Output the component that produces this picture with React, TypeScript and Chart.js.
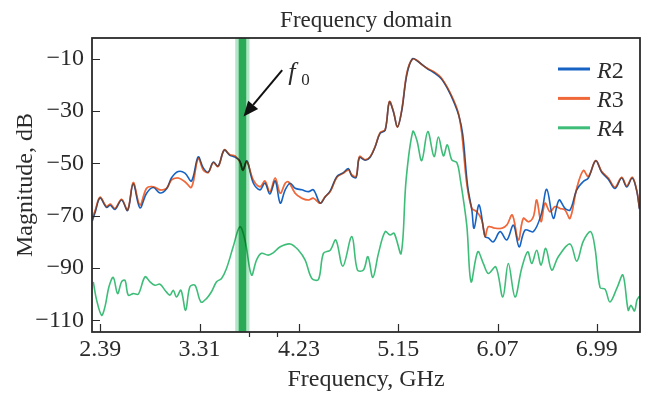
import React, { useEffect, useRef } from "react";
import { Chart, registerables } from "chart.js";

Chart.register(...registerables);

// ---------- data ----------
const R2_FREQ = [2.316,2.344,2.387,2.448,2.482,2.526,2.587,2.643,2.695,2.757,2.819,2.881,2.943,3.004,3.050,3.112,3.174,3.235,3.297,3.344,3.390,3.436,3.482,3.538,3.591,3.637,3.683,3.711,3.748,3.807,3.869,3.915,3.961,4.010,4.057,4.103,4.149,4.195,4.257,4.319,4.365,4.427,4.473,4.520,4.582,4.643,4.689,4.720,4.760,4.791,4.844,4.890,4.936,4.982,5.029,5.068,5.106,5.143,5.183,5.230,5.283,5.334,5.418,5.482,5.547,5.607,5.668,5.714,5.748,5.793,5.832,5.853,5.899,5.955,5.985,6.031,6.094,6.156,6.217,6.270,6.325,6.402,6.473,6.526,6.587,6.640,6.695,6.742,6.804,6.865,6.911,6.980,7.035,7.096,7.158,7.220,7.267,7.318,7.359,7.385];
const R2_DB = [-72.0,-68.5,-63.2,-66.8,-66.0,-67.6,-64.0,-68.0,-57.8,-67.0,-61.4,-59.2,-61.3,-59.7,-55.5,-53.1,-53.7,-56.7,-47.5,-51.7,-53.3,-49.5,-51.0,-44.9,-46.9,-47.6,-49.0,-52.4,-49.0,-57.5,-60.1,-57.5,-61.7,-56.7,-65.2,-60.1,-57.6,-59.5,-60.1,-60.8,-60.1,-65.2,-62.8,-60.5,-55.0,-53.5,-52.0,-54.8,-55.4,-47.8,-48.8,-47.6,-43.7,-38.5,-37.3,-26.5,-30.3,-36.0,-29.8,-16.0,-9.9,-11.0,-13.7,-15.3,-17.5,-21.4,-26.8,-32.1,-39.0,-58.6,-67.8,-74.8,-65.9,-78.0,-78.5,-80.0,-76.1,-79.3,-73.6,-81.9,-75.5,-76.1,-69.7,-59.9,-71.0,-64.0,-67.2,-67.8,-60.1,-56.9,-55.6,-49.0,-53.4,-56.0,-59.6,-55.6,-59.0,-55.6,-60.4,-67.5];

const R3_FREQ = [2.316,2.344,2.387,2.448,2.482,2.526,2.587,2.643,2.695,2.757,2.819,2.881,2.943,3.004,3.050,3.112,3.174,3.235,3.297,3.344,3.390,3.436,3.482,3.538,3.591,3.637,3.683,3.711,3.748,3.807,3.869,3.915,3.961,4.010,4.057,4.103,4.133,4.195,4.257,4.319,4.365,4.427,4.473,4.520,4.582,4.643,4.689,4.720,4.760,4.791,4.844,4.890,4.936,4.982,5.029,5.068,5.106,5.143,5.183,5.230,5.276,5.322,5.368,5.415,5.476,5.538,5.600,5.661,5.707,5.739,5.785,5.832,5.878,5.924,5.955,5.985,6.047,6.109,6.156,6.207,6.263,6.309,6.356,6.402,6.433,6.473,6.510,6.556,6.603,6.649,6.695,6.742,6.804,6.865,6.911,6.980,7.035,7.096,7.158,7.220,7.267,7.318,7.359,7.385];
const R3_DB = [-71.0,-67.8,-62.9,-66.5,-65.5,-67.2,-63.7,-67.8,-57.3,-65.9,-59.5,-58.9,-60.1,-59.5,-56.3,-55.6,-57.0,-59.1,-48.0,-52.5,-53.5,-49.7,-51.2,-44.8,-46.7,-47.1,-49.4,-52.7,-49.3,-56.3,-58.9,-56.7,-60.9,-55.6,-61.4,-57.6,-57.0,-61.4,-63.3,-64.0,-63.3,-65.2,-62.7,-60.8,-55.3,-53.7,-52.5,-54.4,-55.0,-47.4,-48.6,-47.4,-43.5,-38.2,-37.1,-26.3,-30.1,-36.1,-29.4,-15.4,-10.3,-10.5,-12.2,-13.5,-14.8,-16.7,-20.5,-25.6,-30.7,-38.4,-57.6,-67.2,-68.5,-71.6,-78.0,-74.2,-74.8,-74.8,-73.6,-69.7,-79.3,-71.0,-72.3,-70.4,-64.0,-72.3,-65.2,-68.5,-66.5,-67.2,-67.8,-71.0,-59.5,-52.7,-55.0,-48.9,-53.1,-55.6,-59.1,-55.3,-58.6,-55.3,-60.1,-67.2];

const R4_FREQ = [2.325,2.356,2.402,2.433,2.470,2.510,2.550,2.587,2.619,2.649,2.695,2.742,2.804,2.850,2.896,2.943,2.989,3.035,3.066,3.096,3.137,3.180,3.220,3.267,3.322,3.374,3.420,3.467,3.513,3.559,3.621,3.683,3.730,3.791,3.837,3.883,3.945,3.992,4.057,4.149,4.226,4.288,4.350,4.411,4.457,4.520,4.572,4.637,4.720,4.772,4.828,4.869,4.915,4.967,5.029,5.075,5.112,5.177,5.223,5.285,5.322,5.368,5.424,5.482,5.522,5.569,5.605,5.646,5.693,5.723,5.785,5.825,5.887,5.939,5.985,6.054,6.119,6.170,6.232,6.294,6.350,6.387,6.433,6.473,6.517,6.572,6.633,6.742,6.804,6.865,6.933,6.973,7.020,7.066,7.112,7.181,7.232,7.281,7.306,7.339,7.362,7.385];
const R4_DB = [-95.3,-102.3,-108.1,-104.9,-97.2,-93.6,-99.8,-95.3,-94.7,-100.4,-99.8,-100.0,-93.4,-95.3,-96.6,-96.2,-98.5,-100.4,-98.5,-101.1,-98.5,-106.2,-97.2,-96.6,-103.0,-101.7,-99.1,-95.3,-94.0,-90.2,-81.9,-74.2,-79.3,-92.7,-87.0,-84.4,-85.1,-84.2,-81.9,-80.8,-83.2,-87.0,-94.0,-94.4,-84.4,-83.2,-79.3,-89.3,-78.0,-90.8,-90.8,-85.7,-93.6,-84.4,-76.1,-77.4,-76.7,-84.4,-56.3,-37.8,-41.0,-48.9,-37.8,-47.4,-39.9,-47.1,-42.9,-48.6,-49.7,-55.5,-73.6,-95.3,-83.8,-88.3,-92.1,-89.6,-101.1,-88.3,-101.1,-90.1,-83.8,-88.3,-83.2,-88.9,-82.5,-90.8,-85.7,-80.8,-87.4,-79.7,-76.1,-82.4,-97.5,-98.1,-103.0,-97.2,-92.7,-106.2,-104.3,-106.4,-102.3,-100.8];

const SERIES_NAMES = ["R2", "R3", "R4"];
const SERIES_COLORS = ["#1763c4", "#f0683a", "#3dbd78"];

const X_TICKS = [2.39, 3.31, 4.23, 5.15, 6.07, 6.99];
const Y_TICKS = [-110, -90, -70, -50, -30, -10];
const X_MINOR = [3.772, 4.026];
const X_RANGE = [2.313, 7.39];
const Y_RANGE = [-114.5, -2];

const F0_BAND = [3.64, 3.772];
const F0_CORE = [3.672, 3.742];
const ARROW_TAIL = [4.075, -14.3];
const ARROW_TIP = [3.717, -32.0];
const F0_LABEL = [4.131, -17.9];
const F0_SUB = [4.251, -20.0];

const TITLE = "Frequency domain";
const X_TITLE = "Frequency, GHz";
const Y_TITLE = "Magnitude, dB";

const SERIF = "'Liberation Serif', 'Times New Roman', serif";
const INK = "#2b2b2b";

function zip(xs: number[], ys: number[]) {
  const n = Math.min(xs.length, ys.length);
  const out: { x: number; y: number }[] = [];
  for (let i = 0; i < n; i++) out.push({ x: xs[i], y: ys[i] });
  return out;
}

const decorPlugin = {
  id: "decor",
  beforeDatasetDraw(chart: any, args: any) {
    if (args.index === 1) {
      chart.ctx.save();
      chart.ctx.globalCompositeOperation = "multiply";
    }
  },
  afterDatasetDraw(chart: any, args: any) {
    if (args.index === 1) {
      const ctx = chart.ctx;
      ctx.restore();
      ctx.save();
      ctx.globalAlpha = 0.45;
      args.meta.dataset.draw(ctx, chart.chartArea);
      ctx.restore();
    }
  },
  afterDatasetsDraw(chart: any) {
    const { ctx, chartArea: a, scales } = chart;
    const x = scales.x;
    ctx.save();
    ctx.globalCompositeOperation = "multiply";
    const b0 = x.getPixelForValue(F0_BAND[0]);
    const b1 = x.getPixelForValue(F0_BAND[1]);
    ctx.fillStyle = "#b3e6c6";
    ctx.fillRect(b0, a.top, b1 - b0, a.bottom - a.top);
    const c0 = x.getPixelForValue(F0_CORE[0]);
    const c1 = x.getPixelForValue(F0_CORE[1]);
    ctx.fillStyle = "#3cbd6e";
    ctx.fillRect(c0, a.top, c1 - c0, a.bottom - a.top);
    ctx.restore();
  },
  afterDraw(chart: any) {
    const { ctx, chartArea: a, scales } = chart;
    const x = scales.x;
    const y = scales.y;
    ctx.save();
    ctx.strokeStyle = INK;
    ctx.lineWidth = 1.8;
    ctx.strokeRect(a.left, a.top, a.right - a.left, a.bottom - a.top);
    ctx.lineWidth = 1.2;
    ctx.beginPath();
    X_TICKS.forEach((v) => {
      const px = Math.round(x.getPixelForValue(v)) + 0.5;
      ctx.moveTo(px, a.bottom);
      ctx.lineTo(px, a.bottom - 8);
    });
    X_MINOR.forEach((v) => {
      const px = Math.round(x.getPixelForValue(v)) + 0.5;
      ctx.moveTo(px, a.bottom);
      ctx.lineTo(px, a.bottom + 5);
    });
    Y_TICKS.forEach((v) => {
      const py = Math.round(y.getPixelForValue(v)) + 0.5;
      ctx.moveTo(a.left, py);
      ctx.lineTo(a.left + 8, py);
    });
    ctx.stroke();

    ctx.fillStyle = INK;
    ctx.font = `23px ${SERIF}`;
    ctx.textAlign = "center";
    ctx.textBaseline = "alphabetic";
    ctx.fillText(TITLE, (a.left + a.right) / 2, 27);

    const tx = x.getPixelForValue(ARROW_TAIL[0]);
    const ty = y.getPixelForValue(ARROW_TAIL[1]);
    const hx = x.getPixelForValue(ARROW_TIP[0]);
    const hy = y.getPixelForValue(ARROW_TIP[1]);
    const ang = Math.atan2(hy - ty, hx - tx);
    const headLen = 15;
    const headHalf = 6.5;
    const bx = hx - headLen * Math.cos(ang);
    const by = hy - headLen * Math.sin(ang);
    ctx.strokeStyle = "#111";
    ctx.lineWidth = 2;
    ctx.beginPath();
    ctx.moveTo(tx, ty);
    ctx.lineTo(bx, by);
    ctx.stroke();
    ctx.fillStyle = "#111";
    ctx.beginPath();
    ctx.moveTo(hx, hy);
    ctx.lineTo(bx + headHalf * Math.sin(ang), by - headHalf * Math.cos(ang));
    ctx.lineTo(bx - headHalf * Math.sin(ang), by + headHalf * Math.cos(ang));
    ctx.closePath();
    ctx.fill();

    ctx.fillStyle = INK;
    ctx.textAlign = "left";
    ctx.font = `italic 26px ${SERIF}`;
    ctx.fillText("f", x.getPixelForValue(F0_LABEL[0]), y.getPixelForValue(F0_LABEL[1]));
    ctx.font = `17px ${SERIF}`;
    ctx.fillText("0", x.getPixelForValue(F0_SUB[0]), y.getPixelForValue(F0_SUB[1]));

    const legX0 = a.right - 82;
    const legX1 = a.right - 50;
    const legTop = a.top + 31;
    const legStep = 29.4;
    SERIES_NAMES.forEach((name, i) => {
      const ly = legTop + i * legStep;
      ctx.strokeStyle = SERIES_COLORS[i];
      ctx.lineWidth = 3;
      ctx.beginPath();
      ctx.moveTo(legX0, ly);
      ctx.lineTo(legX1, ly);
      ctx.stroke();
      ctx.fillStyle = INK;
      ctx.textAlign = "left";
      ctx.textBaseline = "alphabetic";
      ctx.font = `italic 24px ${SERIF}`;
      const tx0 = legX1 + 7;
      ctx.fillText(name[0], tx0, ly + 8.5);
      const w = ctx.measureText(name[0]).width;
      ctx.font = `24px ${SERIF}`;
      ctx.fillText(name.slice(1), tx0 + w, ly + 8.5);
    });
    ctx.restore();
  },
};

export default function App() {
  const canvasRef = useRef<HTMLCanvasElement | null>(null);

  useEffect(() => {
    const canvas = canvasRef.current;
    if (!canvas) return;
    Chart.defaults.font.family = SERIF;
    Chart.defaults.color = INK;
    const series = [zip(R2_FREQ, R2_DB), zip(R3_FREQ, R3_DB), zip(R4_FREQ, R4_DB)];
    const orders = [2, 1, 3];
    const chart = new Chart(canvas, {
      type: "line",
      data: {
        datasets: series.map((d, i) => ({
          label: SERIES_NAMES[i],
          data: d,
          borderColor: SERIES_COLORS[i],
          backgroundColor: SERIES_COLORS[i],
          borderWidth: 1.6,
          pointRadius: 0,
          tension: 0.35,
          fill: false,
          order: orders[i],
        })),
      },
      options: {
        animation: false,
        responsive: false,
        maintainAspectRatio: false,
        devicePixelRatio: 1,
        layout: { padding: { left: 0, right: 7, top: 38, bottom: 0 } },
        plugins: {
          legend: { display: false },
          tooltip: { enabled: false },
          title: { display: false },
        },
        scales: {
          x: {
            type: "linear",
            min: X_RANGE[0],
            max: X_RANGE[1],
            afterBuildTicks: (s: any) => {
              s.ticks = X_TICKS.map((v) => ({ value: v }));
            },
            afterFit: (s: any) => {
              s.height = 64;
            },
            grid: { display: false, drawTicks: false },
            border: { display: false },
            ticks: {
              autoSkip: false,
              maxRotation: 0,
              padding: 3,
              color: INK,
              font: { size: 24, family: SERIF },
              callback: (v: any) => Number(v).toFixed(2),
            },
            title: {
              display: true,
              text: X_TITLE,
              color: INK,
              font: { size: 24, family: SERIF },
              padding: 2,
            },
          },
          y: {
            type: "linear",
            min: Y_RANGE[0],
            max: Y_RANGE[1],
            afterBuildTicks: (s: any) => {
              s.ticks = Y_TICKS.map((v) => ({ value: v }));
            },
            afterFit: (s: any) => {
              s.width = 92;
            },
            grid: { display: false, drawTicks: false },
            border: { display: false },
            ticks: {
              autoSkip: false,
              padding: 8,
              color: INK,
              font: { size: 24, family: SERIF },
              callback: (v: any) => String(v).replace("-", "\u2212"),
            },
            title: {
              display: true,
              text: Y_TITLE,
              color: INK,
              font: { size: 24, family: SERIF },
              padding: 11,
            },
          },
        },
      },
      plugins: [decorPlugin],
    });
    return () => chart.destroy();
  }, []);

  return (
    <div style={{ position: "fixed", left: 0, top: 0, width: 647, height: 396, background: "#fff" }}>
      <canvas ref={canvasRef} width={647} height={396} style={{ width: 647, height: 396, display: "block" }} />
    </div>
  );
}
